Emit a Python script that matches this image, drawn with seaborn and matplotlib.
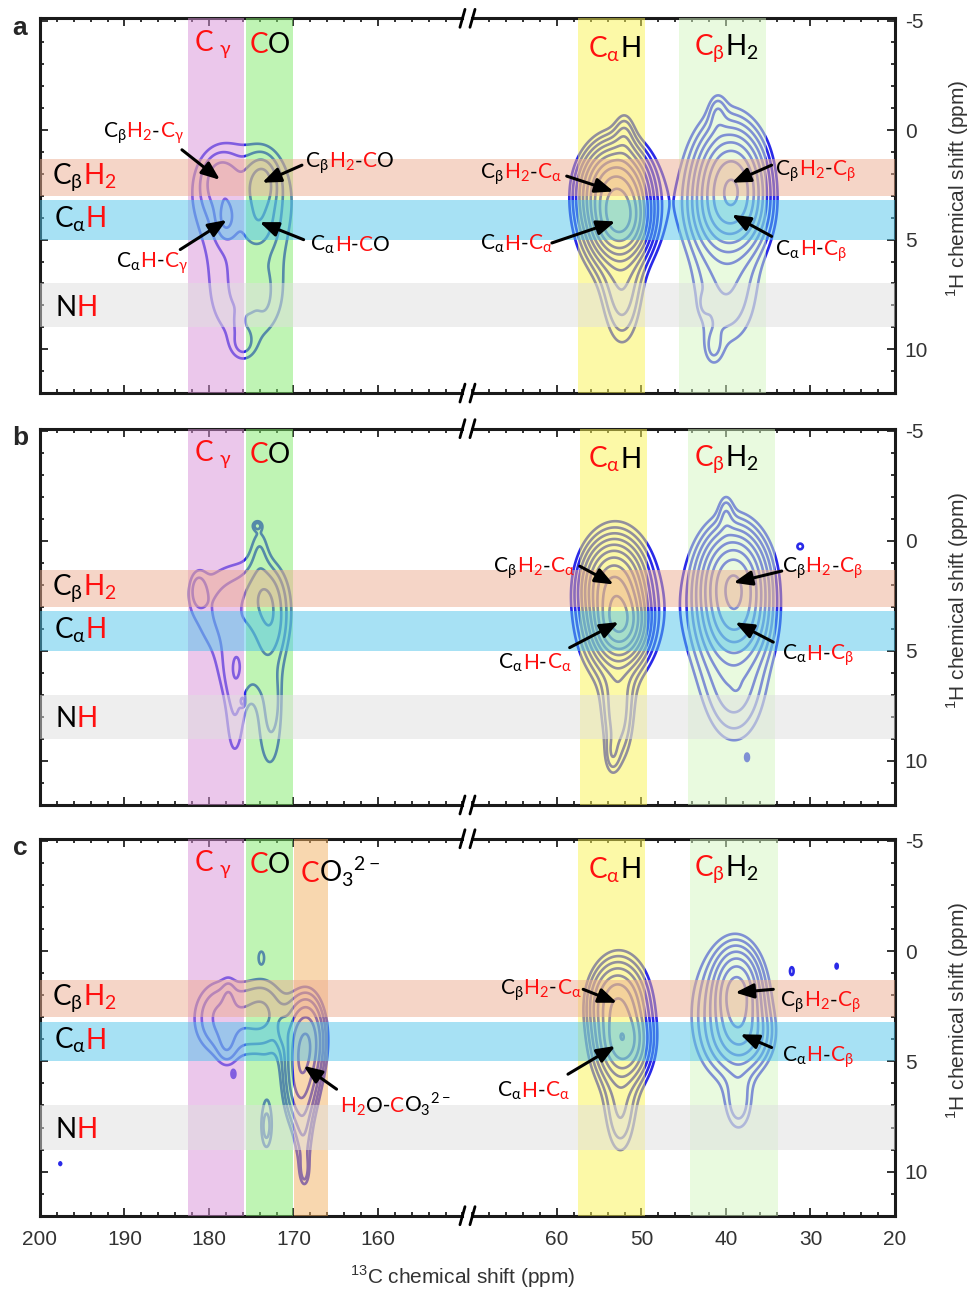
import numpy as np
import matplotlib
matplotlib.use("Agg")
import matplotlib.pyplot as plt
import seaborn as sns
from matplotlib.offsetbox import TextArea, HPacker, AnnotationBbox
from matplotlib.ticker import MultipleLocator, FixedLocator

# ---- chart data (ppm) ----
h_limits = (12, -5.1)
c_left_limits = (200, 150)
c_right_limits = (70, 20)
c_left_ticks = [200, 190, 180, 170, 160]
c_right_ticks = [60, 50, 40, 30, 20]

# contour levels of the 2D spectra (relative intensity)
contour_levels = [1.0, 1.4, 1.96, 2.74, 3.84, 5.38, 7.53, 10.5, 14.8, 20.7, 29.0, 40.5]

# peaks: (13C shift, 1H shift, height, width 13C, width 1H)
peaks_a_left = [(178.7, 2.3, 1.2, 1.5, 0.9), (173.7, 2.4, 1.9, 1.2, 0.8),
                (178.0, 4.1, 1.3, 0.8, 0.6), (174.0, 4.2, 0.9, 1.3, 0.8),
                (176.0, 3.0, 1.7, 5.2, 2.1), (175.5, 7.8, 1.38, 4.5, 2.1),
                (176.0, 9.8, 0.8, 1.0, 0.5), (173.4, 7.35, 0.35, 0.5, 0.6),
                (176.5, 8.8, 0.3, 0.4, 0.35), (173.6, 5.76, 0.3, 0.3, 0.2)]
peaks_a_right = [(52.6, 4.1, 18.0, 1.7, 0.9), (53.1, 2.7, 12.0, 2.0, 1.0),
                 (53.0, 3.6, 4.0, 3.0, 2.0), (52.3, 7.5, 2.0, 1.6, 1.8),
                 (52.0, 0.3, 1.2, 0.8, 0.8),
                 (39.3, 2.35, 10.0, 2.0, 1.2), (39.5, 3.8, 5.0, 2.2, 1.0),
                 (40.0, 3.0, 3.5, 3.3, 2.4), (40.0, 8.0, 1.4, 3.0, 1.8),
                 (41.5, 10.0, 0.9, 0.8, 0.6), (41.0, -0.8, 1.0, 0.7, 0.6),
                 (42.5, 7.9, 0.6, 0.4, 0.3)]
peaks_b_left = [(181.3, 2.2, 0.9, 0.7, 0.6), (173.3, 2.4, 1.3, 1.5, 1.0),
                (172.5, 4.0, 0.9, 1.2, 1.0), (176.5, 3.1, 1.7, 4.8, 1.9),
                (174.0, 0.2, 0.8, 0.8, 0.9), (177.0, 8.0, 1.2, 1.1, 2.2),
                (172.8, 8.3, 1.3, 1.5, 2.4), (176.0, 6.0, 0.7, 2.5, 1.0),
                (174.3, -0.7, 1.1, 0.4, 0.15), (176.0, 7.3, 1.05, 0.2, 0.15),
                (172.4, 7.3, 0.5, 0.5, 0.8)]
peaks_b_right = [(52.6, 3.7, 18.0, 1.6, 0.9), (53.3, 2.0, 11.0, 1.8, 1.0),
                 (53.0, 3.0, 4.0, 3.0, 2.2), (52.8, 8.0, 2.2, 1.3, 1.6),
                 (53.5, 9.8, 0.9, 0.6, 0.6),
                 (39.1, 1.9, 12.0, 2.0, 1.2), (38.9, 3.7, 5.0, 2.0, 1.0),
                 (39.5, 3.0, 3.2, 3.5, 2.5), (39.0, 7.0, 1.6, 2.5, 1.8),
                 (40.0, -1.3, 1.0, 0.6, 0.6), (38.8, 6.4, 0.5, 0.3, 0.25),
                 (37.5, 9.85, 1.05, 0.2, 0.15), (31.2, 0.25, 1.1, 0.5, 0.2)]
peaks_c_left = [(168.4, 4.0, 4.3, 1.4, 1.3), (169.2, 6.0, 3.5, 1.3, 1.4),
                (168.8, 8.8, 1.2, 0.8, 1.2), (168.7, 10.0, 1.1, 0.4, 0.5),
                (178.8, 2.9, 1.3, 2.3, 1.3), (177.9, 4.45, 0.7, 0.8, 0.6),
                (177.7, 1.96, 0.5, 0.5, 0.5), (173.5, 2.6, 1.1, 1.8, 1.2),
                (171.3, 3.6, 0.6, 0.5, 0.5), (173.2, 7.8, 1.2, 0.7, 1.4),
                (173.2, 8.0, 0.5, 0.4, 0.5), (175.5, 3.3, 1.1, 4.5, 1.4),
                (197.6, 9.64, 1.1, 0.25, 0.15), (177.1, 5.6, 1.05, 0.2, 0.15),
                (173.8, 0.25, 1.1, 0.35, 0.3)]
peaks_c_right = [(52.15, 4.15, 7.0, 1.6, 0.9), (52.9, 2.3, 5.0, 1.8, 1.0),
                 (52.5, 3.5, 2.5, 2.6, 2.2), (52.5, 7.5, 1.5, 1.3, 1.5),
                 (38.7, 1.9, 7.0, 1.5, 1.1), (38.1, 3.85, 3.0, 2.0, 0.9),
                 (39.5, 2.8, 2.5, 3.3, 2.2), (38.5, 7.0, 1.4, 1.2, 1.0),
                 (32.2, 0.9, 1.1, 0.3, 0.25), (26.9, 0.68, 1.1, 0.3, 0.25)]

# assignment bands
cgamma_band = (182.5, 175.9)
co_band = (175.6, 170.0)
co3_band = (169.9, 165.9)
calpha_bands = [(57.5, 49.6), (57.3, 49.4), (57.5, 49.6)]
cbeta_bands = [(45.6, 35.3), (44.5, 34.2), (44.3, 33.9)]
cbh2_band = (1.3, 3.0)
cah_band = (3.2, 5.0)
nh_band = (7.0, 9.0)

# ---- style ----
sns.set_style("ticks")
plt.rcParams["font.family"] = ["Liberation Sans", "DejaVu Sans"]
plt.rcParams["mathtext.fontset"] = "custom"
plt.rcParams["mathtext.rm"] = "Lato"
plt.rcParams["axes.unicode_minus"] = False

LINE_BLUE = "#2a2ae8"
RED = "#ff1010"
K = "black"
LBL = "Lato"
CARB = "O" + r"$_\mathregular{3}$" + r"$^\mathregular{2-}$"


def spectrum(cs, hs, peaks):
    cc, hh = np.meshgrid(cs, hs)
    z = np.zeros_like(cc)
    for c0, h0, amp, wc, wh in peaks:
        z += amp * np.exp(-0.5 * ((cc - c0) / wc) ** 2 - 0.5 * ((hh - h0) / wh) ** 2)
    return z


def rich(ax, x, y, parts, size, align=(0, 0.5)):
    areas = [TextArea(t, textprops=dict(color=c, fontsize=size, fontfamily=LBL))
             for t, c in parts]
    box = HPacker(children=areas, align="baseline", pad=0, sep=0)
    ab = AnnotationBbox(box, (x, y), xycoords="data", box_alignment=align,
                        frameon=False, pad=0, zorder=6, annotation_clip=False)
    ax.add_artist(ab)


def arrow(ax, tail, tip):
    ax.annotate("", xy=tip, xytext=tail, zorder=7,
                arrowprops=dict(arrowstyle="-|>,head_length=0.55,head_width=0.22",
                                mutation_scale=20, lw=2.2, color="black",
                                shrinkA=0, shrinkB=0))


def sub(base, s):
    return base + r"$_\mathregular{" + s + "}$"


def hbands(ax):
    ax.axhspan(*cbh2_band, color="#edad91", alpha=0.5, lw=0, zorder=3)
    ax.axhspan(*cah_band, color="#51c5eb", alpha=0.5, lw=0, zorder=3)
    ax.axhspan(*nh_band, color="#dfdfdf", alpha=0.5, lw=0, zorder=3)


fig = plt.figure(figsize=(9.73, 12.90), dpi=100)

panel_rects = [(0.6953, 0.2905), (0.3760, 0.2917), (0.0576, 0.2922)]
left_peaks = [peaks_a_left, peaks_b_left, peaks_c_left]
right_peaks = [peaks_a_right, peaks_b_right, peaks_c_right]
letters = ["a", "b", "c"]

cs_left = np.linspace(150, 200, 500)
cs_right = np.linspace(20, 70, 500)
hs = np.linspace(-5.1, 12, 420)

axes = []
for i, (bottom, height) in enumerate(panel_rects):
    axl = fig.add_axes([0.0411, bottom, 0.4342, height])
    axr = fig.add_axes([0.4856, bottom, 0.4342, height])
    gap = fig.add_axes([0.4753, bottom, 0.0103, height])
    gap.set_ylim(*h_limits)
    gap.axis("off")
    hbands(gap)
    axes.append((axl, axr))

    axl.contour(cs_left, hs, spectrum(cs_left, hs, left_peaks[i]),
                levels=contour_levels, colors=LINE_BLUE, linewidths=1.9, zorder=2)
    axr.contour(cs_right, hs, spectrum(cs_right, hs, right_peaks[i]),
                levels=contour_levels, colors=LINE_BLUE, linewidths=1.9, zorder=2)

    # shaded assignment bands (drawn over the contours)
    axl.axvspan(*cgamma_band, color="#d991d9", alpha=0.5, lw=0, zorder=3)
    axl.axvspan(*co_band, color="#81eb6b", alpha=0.5, lw=0, zorder=3)
    if i == 2:
        axl.axvspan(*co3_band, color="#f3b161", alpha=0.5, lw=0, zorder=3)
    axr.axvspan(*calpha_bands[i], color="#fbf551", alpha=0.5, lw=0, zorder=3)
    axr.axvspan(*cbeta_bands[i], color="#d5f7c1", alpha=0.5, lw=0, zorder=3)
    for ax in (axl, axr):
        hbands(ax)

    axl.set_xlim(*c_left_limits)
    axr.set_xlim(*c_right_limits)
    axl.xaxis.set_major_locator(FixedLocator(c_left_ticks))
    axr.xaxis.set_major_locator(FixedLocator(c_right_ticks))
    for ax in (axl, axr):
        ax.set_ylim(*h_limits)
        ax.xaxis.set_minor_locator(MultipleLocator(2))
        ax.yaxis.set_major_locator(MultipleLocator(5))
        ax.yaxis.set_minor_locator(MultipleLocator(1))
        ax.tick_params(which="both", direction="in", top=True, bottom=True,
                       color="#222222", width=1.3, labelsize=15,
                       labelcolor="#333333")
        ax.tick_params(which="major", length=6)
        ax.tick_params(which="minor", length=3)
        ax.tick_params(axis="x", pad=10, labelbottom=(i == 2))
        for sp in ax.spines.values():
            sp.set_linewidth(2.2)
            sp.set_color("#1a1a1a")
    axl.spines["right"].set_visible(False)
    axr.spines["left"].set_visible(False)
    axl.tick_params(axis="y", which="both", left=True, right=False, labelleft=False)
    axr.tick_params(axis="y", which="both", left=False, right=True,
                    labelleft=False, labelright=True, pad=7)

    # axis break marks
    for ax, xe in ((axl, 1.0), (axr, 0.0)):
        for ye in (0.0, 1.0):
            ax.plot([xe - 0.006, xe + 0.006], [ye - 0.024, ye + 0.024],
                    transform=ax.transAxes, color="black", lw=2.0,
                    clip_on=False, zorder=8)

    fig.text(0.9846, bottom + height * 0.545, r"$^\mathregular{1}$H chemical shift (ppm)",
             rotation=90, ha="center", va="center", fontsize=15, color="#333333")
    fig.text(0.0206, bottom + height - 0.0075, letters[i], fontsize=19,
             fontweight="bold", ha="center", va="center")

    # band labels
    rich(axl, 179.5, -3.9, [("C " + r"$_\mathregular{γ}$", RED)], 20, (0.5, 0.5))
    rich(axl, 172.8, -3.9, [("C", RED), ("O", K)], 20, (0.5, 0.5))
    rich(axr, 53.2, -3.7, [(sub("C", "α"), RED), ("H", K)], 20, (0.5, 0.5))
    rich(axr, 40.0, -3.7, [(sub("C", "β"), RED), (sub("H", "2"), K)], 20, (0.5, 0.5))
    rich(axl, 198.6, 2.15, [(sub("C", "β"), K), (sub("H", "2"), RED)], 20, (0, 0.5))
    rich(axl, 198.4, 4.05, [(sub("C", "α"), K), ("H", RED)], 20, (0, 0.5))
    rich(axl, 198.2, 8.1, [("N", K), ("H", RED)], 20, (0, 0.5))

la, lb, lc = axes

# ---- panel a annotations ----
ax = la[0]
rich(ax, 183.0, 0.15, [(sub("C", "β"), K), (sub("H", "2"), RED), ("-", K), (sub("C", "γ"), RED)], 15, (1, 0.5))
arrow(ax, (183.2, 0.9), (178.7, 2.27))
rich(ax, 168.6, 1.5, [(sub("C", "β"), K), (sub("H", "2"), RED), ("-", K), ("C", RED), ("O", K)], 15, (0, 0.5))
arrow(ax, (169.0, 1.6), (173.7, 2.4))
rich(ax, 182.5, 6.05, [(sub("C", "α"), K), ("H", RED), ("-", K), (sub("C", "γ"), RED)], 15, (1, 0.5))
arrow(ax, (183.4, 5.45), (177.9, 4.1))
rich(ax, 168.0, 5.25, [(sub("C", "α"), K), ("H", RED), ("-", K), ("C", RED), ("O", K)], 15, (0, 0.5))
arrow(ax, (168.8, 5.0), (174.0, 4.2))
ax = la[1]
rich(ax, 59.4, 2.0, [(sub("C", "β"), K), (sub("H", "2"), RED), ("-", K), (sub("C", "α"), RED)], 15, (1, 0.5))
arrow(ax, (58.85, 2.1), (53.3, 2.8))
rich(ax, 60.5, 5.2, [(sub("C", "α"), K), ("H", RED), ("-", K), (sub("C", "α"), RED)], 15, (1, 0.5))
arrow(ax, (60.6, 5.15), (53.1, 4.17))
rich(ax, 34.2, 1.85, [(sub("C", "β"), K), (sub("H", "2"), RED), ("-", K), (sub("C", "β"), RED)], 15, (0, 0.5))
arrow(ax, (34.6, 1.6), (39.3, 2.4))
rich(ax, 34.2, 5.5, [(sub("C", "α"), K), ("H", RED), ("-", K), (sub("C", "β"), RED)], 15, (0, 0.5))
arrow(ax, (34.6, 4.85), (39.3, 3.86))

# ---- panel b annotations ----
ax = lb[1]
rich(ax, 57.9, 1.25, [(sub("C", "β"), K), (sub("H", "2"), RED), ("-", K), (sub("C", "α"), RED)], 15, (1, 0.5))
arrow(ax, (57.3, 1.15), (53.3, 1.98))
rich(ax, 58.3, 5.55, [(sub("C", "α"), K), ("H", RED), ("-", K), (sub("C", "α"), RED)], 15, (1, 0.5))
arrow(ax, (58.5, 4.85), (52.7, 3.69))
rich(ax, 33.4, 1.25, [(sub("C", "β"), K), (sub("H", "2"), RED), ("-", K), (sub("C", "β"), RED)], 15, (0, 0.5))
arrow(ax, (33.4, 1.37), (39.1, 1.9))
rich(ax, 33.4, 5.2, [(sub("C", "α"), K), ("H", RED), ("-", K), (sub("C", "β"), RED)], 15, (0, 0.5))
arrow(ax, (34.4, 4.6), (38.9, 3.7))

# ---- panel c annotations ----
ax = lc[0]
rich(ax, 169.2, -3.6, [("C", RED), (CARB, K)], 20, (0, 0.5))
rich(ax, 164.5, 6.95, [(sub("H", "2"), RED), ("O-", K), ("C", RED), (CARB, K)], 15, (0, 0.5))
arrow(ax, (164.9, 6.26), (168.8, 5.2))
ax = lc[1]
rich(ax, 57.1, 1.75, [(sub("C", "β"), K), (sub("H", "2"), RED), ("-", K), (sub("C", "α"), RED)], 15, (1, 0.5))
arrow(ax, (56.9, 1.73), (52.9, 2.34))
rich(ax, 58.5, 6.35, [(sub("C", "α"), K), ("H", RED), ("-", K), (sub("C", "α"), RED)], 15, (1, 0.5))
arrow(ax, (58.7, 5.58), (53.1, 4.3))
rich(ax, 33.6, 2.3, [(sub("C", "β"), K), (sub("H", "2"), RED), ("-", K), (sub("C", "β"), RED)], 15, (0, 0.5))
arrow(ax, (34.4, 1.73), (38.9, 1.88))
rich(ax, 33.4, 4.8, [(sub("C", "α"), K), ("H", RED), ("-", K), (sub("C", "β"), RED)], 15, (0, 0.5))
arrow(ax, (34.6, 4.37), (38.3, 3.77))

fig.text(0.4758, 0.0100, r"$^\mathregular{13}$C chemical shift (ppm)",
         ha="center", va="center", fontsize=15, color="#333333")

fig.savefig("out.png", dpi=100)
